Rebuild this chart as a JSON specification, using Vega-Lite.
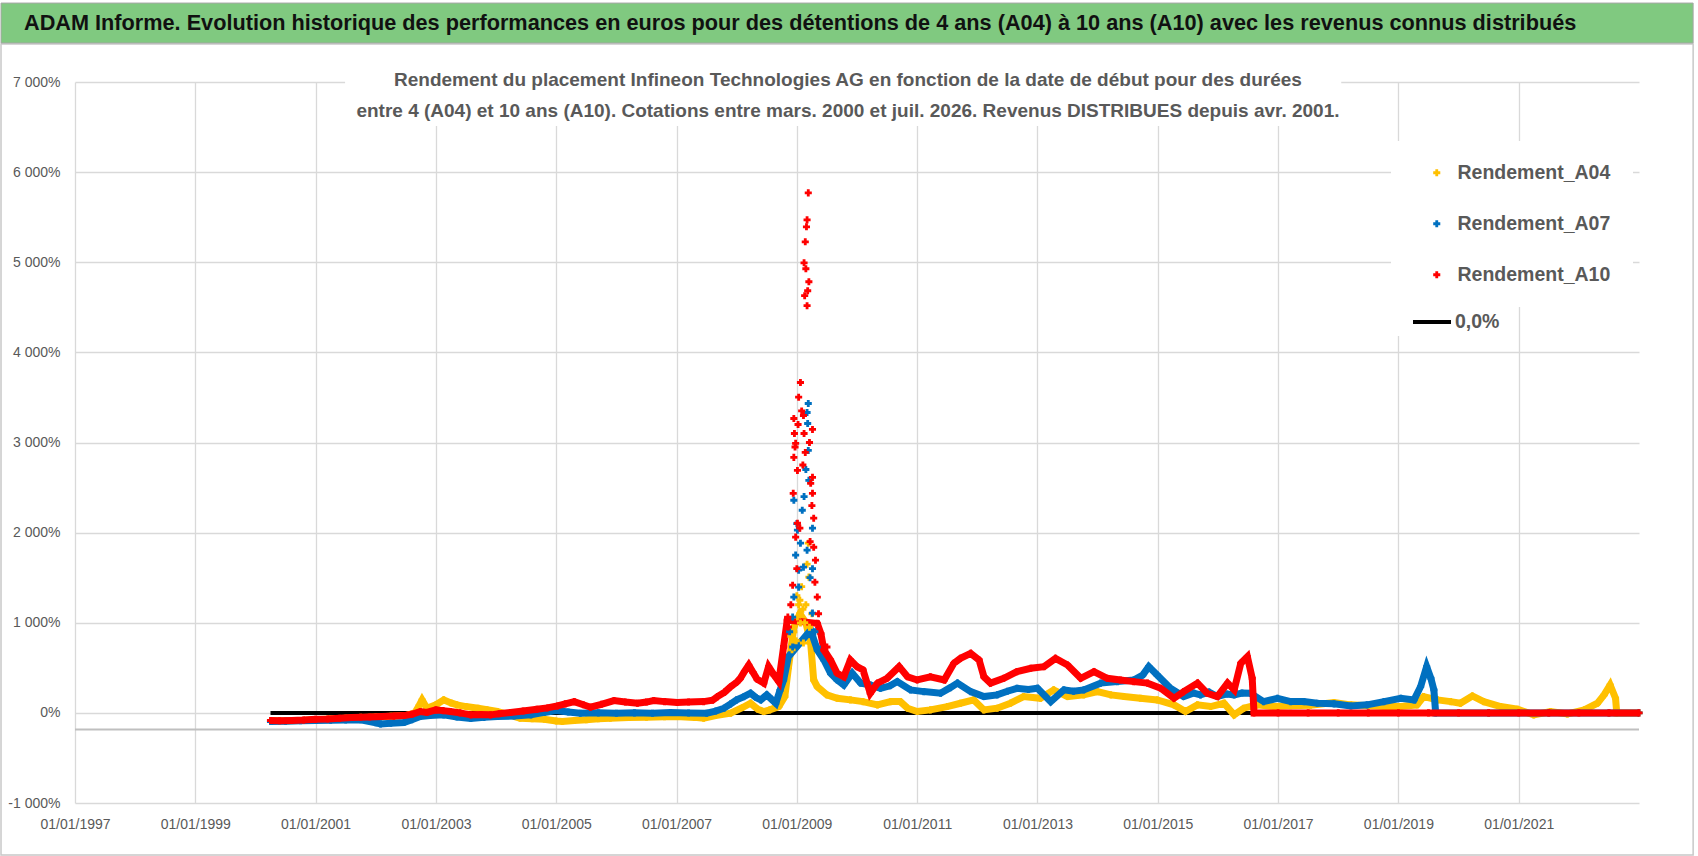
{
  "$schema": "https://vega.github.io/schema/vega-lite/v6.json",
  "width": 1564,
  "height": 721,
  "autosize": {"type": "none"},
  "padding": {"left": 75, "top": 82, "right": 59, "bottom": 53},
  "background": "white",
  "config": {"view": {"stroke": null}, "font": "Liberation Sans"},
  "datasets": {
    "blank": [{}],
    "zero": [{"k": "0,0%", "t": 2000.25, "v": 0}, {"k": "0,0%", "t": 2016.6, "v": 0}],
    "band": [
      {"s":"Rendement_A04","t":2000.25,"v":-85},{"s":"Rendement_A04","t":2000.5,"v":-88},{"s":"Rendement_A04","t":2000.75,"v":-84},{"s":"Rendement_A04","t":2001.0,"v":-75},{"s":"Rendement_A04","t":2001.25,"v":-68},{"s":"Rendement_A04","t":2001.5,"v":-60},{"s":"Rendement_A04","t":2001.75,"v":-50},{"s":"Rendement_A04","t":2002.0,"v":-45},{"s":"Rendement_A04","t":2002.25,"v":-38},{"s":"Rendement_A04","t":2002.5,"v":-30},{"s":"Rendement_A04","t":2002.65,"v":0},{"s":"Rendement_A04","t":2002.72,"v":80},{"s":"Rendement_A04","t":2002.77,"v":144},{"s":"Rendement_A04","t":2002.85,"v":52},{"s":"Rendement_A04","t":2003.0,"v":90},{"s":"Rendement_A04","t":2003.13,"v":144},{"s":"Rendement_A04","t":2003.25,"v":110},{"s":"Rendement_A04","t":2003.35,"v":89},{"s":"Rendement_A04","t":2003.5,"v":70},{"s":"Rendement_A04","t":2003.7,"v":52},{"s":"Rendement_A04","t":2003.85,"v":35},{"s":"Rendement_A04","t":2004.02,"v":15},{"s":"Rendement_A04","t":2004.2,"v":-20},{"s":"Rendement_A04","t":2004.4,"v":-59},{"s":"Rendement_A04","t":2004.6,"v":-65},{"s":"Rendement_A04","t":2004.8,"v":-70},{"s":"Rendement_A04","t":2005.0,"v":-90},{"s":"Rendement_A04","t":2005.1,"v":-96},{"s":"Rendement_A04","t":2005.3,"v":-85},{"s":"Rendement_A04","t":2005.5,"v":-77},{"s":"Rendement_A04","t":2005.7,"v":-65},{"s":"Rendement_A04","t":2005.9,"v":-59},{"s":"Rendement_A04","t":2006.2,"v":-52},{"s":"Rendement_A04","t":2006.5,"v":-48},{"s":"Rendement_A04","t":2006.8,"v":-42},{"s":"Rendement_A04","t":2007.0,"v":-40},{"s":"Rendement_A04","t":2007.3,"v":-50},{"s":"Rendement_A04","t":2007.45,"v":-59},{"s":"Rendement_A04","t":2007.65,"v":-30},{"s":"Rendement_A04","t":2007.9,"v":-4},{"s":"Rendement_A04","t":2008.1,"v":60},{"s":"Rendement_A04","t":2008.23,"v":107},{"s":"Rendement_A04","t":2008.35,"v":40},{"s":"Rendement_A04","t":2008.45,"v":15},{"s":"Rendement_A04","t":2008.55,"v":33},{"s":"Rendement_A04","t":2008.7,"v":70},{"s":"Rendement_A04","t":2008.8,"v":180},{"s":"Rendement_A04","t":2008.86,"v":500},{"s":"Rendement_A04","t":2008.95,"v":950},{"s":"Rendement_A04","t":2009.05,"v":1100},{"s":"Rendement_A04","t":2009.15,"v":1000},{"s":"Rendement_A04","t":2009.23,"v":771},{"s":"Rendement_A04","t":2009.28,"v":365},{"s":"Rendement_A04","t":2009.34,"v":290},{"s":"Rendement_A04","t":2009.5,"v":200},{"s":"Rendement_A04","t":2009.67,"v":162},{"s":"Rendement_A04","t":2009.89,"v":144},{"s":"Rendement_A04","t":2010.1,"v":125},{"s":"Rendement_A04","t":2010.34,"v":89},{"s":"Rendement_A04","t":2010.56,"v":125},{"s":"Rendement_A04","t":2010.72,"v":125},{"s":"Rendement_A04","t":2010.84,"v":52},{"s":"Rendement_A04","t":2011.0,"v":15},{"s":"Rendement_A04","t":2011.22,"v":33},{"s":"Rendement_A04","t":2011.5,"v":70},{"s":"Rendement_A04","t":2011.72,"v":107},{"s":"Rendement_A04","t":2011.94,"v":144},{"s":"Rendement_A04","t":2012.11,"v":33},{"s":"Rendement_A04","t":2012.33,"v":52},{"s":"Rendement_A04","t":2012.55,"v":107},{"s":"Rendement_A04","t":2012.77,"v":181},{"s":"Rendement_A04","t":2013.05,"v":162},{"s":"Rendement_A04","t":2013.27,"v":255},{"s":"Rendement_A04","t":2013.5,"v":181},{"s":"Rendement_A04","t":2013.77,"v":200},{"s":"Rendement_A04","t":2014.0,"v":236},{"s":"Rendement_A04","t":2014.22,"v":200},{"s":"Rendement_A04","t":2014.44,"v":181},{"s":"Rendement_A04","t":2014.71,"v":162},{"s":"Rendement_A04","t":2014.99,"v":144},{"s":"Rendement_A04","t":2015.27,"v":89},{"s":"Rendement_A04","t":2015.46,"v":15},{"s":"Rendement_A04","t":2015.66,"v":89},{"s":"Rendement_A04","t":2015.88,"v":70},{"s":"Rendement_A04","t":2016.1,"v":107},{"s":"Rendement_A04","t":2016.27,"v":-22},{"s":"Rendement_A04","t":2016.43,"v":52},{"s":"Rendement_A04","t":2016.65,"v":89},{"s":"Rendement_A04","t":2016.93,"v":70},{"s":"Rendement_A04","t":2017.21,"v":80},{"s":"Rendement_A04","t":2017.54,"v":85},{"s":"Rendement_A04","t":2017.93,"v":114},{"s":"Rendement_A04","t":2018.21,"v":89},{"s":"Rendement_A04","t":2018.5,"v":80},{"s":"Rendement_A04","t":2018.76,"v":70},{"s":"Rendement_A04","t":2019.04,"v":70},{"s":"Rendement_A04","t":2019.31,"v":89},{"s":"Rendement_A04","t":2019.42,"v":181},{"s":"Rendement_A04","t":2019.65,"v":144},{"s":"Rendement_A04","t":2019.87,"v":125},{"s":"Rendement_A04","t":2020.03,"v":107},{"s":"Rendement_A04","t":2020.23,"v":188},{"s":"Rendement_A04","t":2020.42,"v":125},{"s":"Rendement_A04","t":2020.7,"v":70},{"s":"Rendement_A04","t":2020.98,"v":41},{"s":"Rendement_A04","t":2021.25,"v":-22},{"s":"Rendement_A04","t":2021.53,"v":15},{"s":"Rendement_A04","t":2021.81,"v":-11},{"s":"Rendement_A04","t":2022.09,"v":33},{"s":"Rendement_A04","t":2022.31,"v":107},{"s":"Rendement_A04","t":2022.42,"v":200},{"s":"Rendement_A04","t":2022.52,"v":310},{"s":"Rendement_A04","t":2022.61,"v":162},{"s":"Rendement_A04","t":2022.63,"v":0},{"s":"Rendement_A04","t":2023.0,"v":0},
      {"s":"Rendement_A07","t":2000.25,"v":-96},{"s":"Rendement_A07","t":2000.5,"v":-92},{"s":"Rendement_A07","t":2000.75,"v":-88},{"s":"Rendement_A07","t":2001.0,"v":-85},{"s":"Rendement_A07","t":2001.25,"v":-82},{"s":"Rendement_A07","t":2001.5,"v":-80},{"s":"Rendement_A07","t":2001.75,"v":-77},{"s":"Rendement_A07","t":2002.0,"v":-110},{"s":"Rendement_A07","t":2002.08,"v":-122},{"s":"Rendement_A07","t":2002.25,"v":-115},{"s":"Rendement_A07","t":2002.47,"v":-107},{"s":"Rendement_A07","t":2002.6,"v":-75},{"s":"Rendement_A07","t":2002.74,"v":-40},{"s":"Rendement_A07","t":2002.9,"v":-30},{"s":"Rendement_A07","t":2003.13,"v":-22},{"s":"Rendement_A07","t":2003.35,"v":-45},{"s":"Rendement_A07","t":2003.58,"v":-63},{"s":"Rendement_A07","t":2003.8,"v":-50},{"s":"Rendement_A07","t":2004.02,"v":-40},{"s":"Rendement_A07","t":2004.3,"v":-35},{"s":"Rendement_A07","t":2004.58,"v":-22},{"s":"Rendement_A07","t":2004.8,"v":5},{"s":"Rendement_A07","t":2005.0,"v":26},{"s":"Rendement_A07","t":2005.2,"v":10},{"s":"Rendement_A07","t":2005.4,"v":-4},{"s":"Rendement_A07","t":2005.7,"v":0},{"s":"Rendement_A07","t":2006.0,"v":-4},{"s":"Rendement_A07","t":2006.3,"v":0},{"s":"Rendement_A07","t":2006.6,"v":-4},{"s":"Rendement_A07","t":2006.9,"v":4},{"s":"Rendement_A07","t":2007.2,"v":-2},{"s":"Rendement_A07","t":2007.5,"v":-4},{"s":"Rendement_A07","t":2007.65,"v":20},{"s":"Rendement_A07","t":2007.79,"v":52},{"s":"Rendement_A07","t":2007.9,"v":100},{"s":"Rendement_A07","t":2008.0,"v":144},{"s":"Rendement_A07","t":2008.12,"v":180},{"s":"Rendement_A07","t":2008.23,"v":218},{"s":"Rendement_A07","t":2008.32,"v":170},{"s":"Rendement_A07","t":2008.4,"v":144},{"s":"Rendement_A07","t":2008.5,"v":200},{"s":"Rendement_A07","t":2008.58,"v":150},{"s":"Rendement_A07","t":2008.65,"v":107},{"s":"Rendement_A07","t":2008.72,"v":250},{"s":"Rendement_A07","t":2008.78,"v":365},{"s":"Rendement_A07","t":2008.86,"v":624},{"s":"Rendement_A07","t":2009.23,"v":918},{"s":"Rendement_A07","t":2009.34,"v":697},{"s":"Rendement_A07","t":2009.45,"v":587},{"s":"Rendement_A07","t":2009.56,"v":440},{"s":"Rendement_A07","t":2009.67,"v":365},{"s":"Rendement_A07","t":2009.78,"v":310},{"s":"Rendement_A07","t":2009.92,"v":440},{"s":"Rendement_A07","t":2010.06,"v":330},{"s":"Rendement_A07","t":2010.22,"v":310},{"s":"Rendement_A07","t":2010.39,"v":273},{"s":"Rendement_A07","t":2010.55,"v":300},{"s":"Rendement_A07","t":2010.67,"v":347},{"s":"Rendement_A07","t":2010.89,"v":255},{"s":"Rendement_A07","t":2011.11,"v":236},{"s":"Rendement_A07","t":2011.39,"v":218},{"s":"Rendement_A07","t":2011.55,"v":280},{"s":"Rendement_A07","t":2011.67,"v":330},{"s":"Rendement_A07","t":2011.89,"v":236},{"s":"Rendement_A07","t":2012.11,"v":181},{"s":"Rendement_A07","t":2012.33,"v":200},{"s":"Rendement_A07","t":2012.5,"v":240},{"s":"Rendement_A07","t":2012.66,"v":273},{"s":"Rendement_A07","t":2012.85,"v":260},{"s":"Rendement_A07","t":2013.0,"v":273},{"s":"Rendement_A07","t":2013.22,"v":125},{"s":"Rendement_A07","t":2013.44,"v":255},{"s":"Rendement_A07","t":2013.6,"v":240},{"s":"Rendement_A07","t":2013.77,"v":255},{"s":"Rendement_A07","t":2014.05,"v":330},{"s":"Rendement_A07","t":2014.33,"v":347},{"s":"Rendement_A07","t":2014.6,"v":365},{"s":"Rendement_A07","t":2014.75,"v":420},{"s":"Rendement_A07","t":2014.85,"v":513},{"s":"Rendement_A07","t":2014.99,"v":420},{"s":"Rendement_A07","t":2015.21,"v":273},{"s":"Rendement_A07","t":2015.43,"v":181},{"s":"Rendement_A07","t":2015.6,"v":220},{"s":"Rendement_A07","t":2015.71,"v":200},{"s":"Rendement_A07","t":2015.85,"v":230},{"s":"Rendement_A07","t":2015.99,"v":181},{"s":"Rendement_A07","t":2016.15,"v":210},{"s":"Rendement_A07","t":2016.27,"v":200},{"s":"Rendement_A07","t":2016.4,"v":220},{"s":"Rendement_A07","t":2016.54,"v":218},{"s":"Rendement_A07","t":2016.76,"v":125},{"s":"Rendement_A07","t":2016.99,"v":162},{"s":"Rendement_A07","t":2017.21,"v":125},{"s":"Rendement_A07","t":2017.43,"v":125},{"s":"Rendement_A07","t":2017.65,"v":107},{"s":"Rendement_A07","t":2017.93,"v":100},{"s":"Rendement_A07","t":2018.21,"v":77},{"s":"Rendement_A07","t":2018.48,"v":89},{"s":"Rendement_A07","t":2018.76,"v":125},{"s":"Rendement_A07","t":2019.04,"v":162},{"s":"Rendement_A07","t":2019.26,"v":144},{"s":"Rendement_A07","t":2019.37,"v":292},{"s":"Rendement_A07","t":2019.47,"v":513},{"s":"Rendement_A07","t":2019.54,"v":384},{"s":"Rendement_A07","t":2019.59,"v":255},{"s":"Rendement_A07","t":2019.62,"v":0},{"s":"Rendement_A07","t":2020.5,"v":0},{"s":"Rendement_A07","t":2021.5,"v":0},{"s":"Rendement_A07","t":2022.5,"v":0},{"s":"Rendement_A07","t":2023.0,"v":0},
      {"s":"Rendement_A10","t":2000.25,"v":-85},{"s":"Rendement_A10","t":2000.4,"v":-88},{"s":"Rendement_A10","t":2000.6,"v":-84},{"s":"Rendement_A10","t":2000.8,"v":-80},{"s":"Rendement_A10","t":2001.0,"v":-72},{"s":"Rendement_A10","t":2001.2,"v":-68},{"s":"Rendement_A10","t":2001.4,"v":-60},{"s":"Rendement_A10","t":2001.6,"v":-52},{"s":"Rendement_A10","t":2001.75,"v":-48},{"s":"Rendement_A10","t":2001.9,"v":-45},{"s":"Rendement_A10","t":2002.1,"v":-40},{"s":"Rendement_A10","t":2002.3,"v":-36},{"s":"Rendement_A10","t":2002.47,"v":-30},{"s":"Rendement_A10","t":2002.6,"v":-15},{"s":"Rendement_A10","t":2002.74,"v":15},{"s":"Rendement_A10","t":2002.85,"v":5},{"s":"Rendement_A10","t":2003.0,"v":33},{"s":"Rendement_A10","t":2003.12,"v":25},{"s":"Rendement_A10","t":2003.24,"v":15},{"s":"Rendement_A10","t":2003.4,"v":0},{"s":"Rendement_A10","t":2003.58,"v":-22},{"s":"Rendement_A10","t":2003.75,"v":-18},{"s":"Rendement_A10","t":2003.91,"v":-22},{"s":"Rendement_A10","t":2004.05,"v":-10},{"s":"Rendement_A10","t":2004.24,"v":4},{"s":"Rendement_A10","t":2004.45,"v":20},{"s":"Rendement_A10","t":2004.68,"v":40},{"s":"Rendement_A10","t":2004.85,"v":55},{"s":"Rendement_A10","t":2005.02,"v":77},{"s":"Rendement_A10","t":2005.15,"v":100},{"s":"Rendement_A10","t":2005.3,"v":125},{"s":"Rendement_A10","t":2005.45,"v":90},{"s":"Rendement_A10","t":2005.57,"v":63},{"s":"Rendement_A10","t":2005.75,"v":95},{"s":"Rendement_A10","t":2005.96,"v":137},{"s":"Rendement_A10","t":2006.15,"v":120},{"s":"Rendement_A10","t":2006.35,"v":107},{"s":"Rendement_A10","t":2006.5,"v":120},{"s":"Rendement_A10","t":2006.62,"v":137},{"s":"Rendement_A10","t":2006.8,"v":125},{"s":"Rendement_A10","t":2007.01,"v":115},{"s":"Rendement_A10","t":2007.2,"v":120},{"s":"Rendement_A10","t":2007.45,"v":125},{"s":"Rendement_A10","t":2007.6,"v":140},{"s":"Rendement_A10","t":2007.68,"v":180},{"s":"Rendement_A10","t":2007.8,"v":230},{"s":"Rendement_A10","t":2007.9,"v":290},{"s":"Rendement_A10","t":2008.0,"v":340},{"s":"Rendement_A10","t":2008.06,"v":384},{"s":"Rendement_A10","t":2008.13,"v":460},{"s":"Rendement_A10","t":2008.2,"v":530},{"s":"Rendement_A10","t":2008.27,"v":450},{"s":"Rendement_A10","t":2008.34,"v":373},{"s":"Rendement_A10","t":2008.45,"v":330},{"s":"Rendement_A10","t":2008.53,"v":513},{"s":"Rendement_A10","t":2008.62,"v":420},{"s":"Rendement_A10","t":2008.7,"v":347},{"s":"Rendement_A10","t":2008.78,"v":734},{"s":"Rendement_A10","t":2008.84,"v":1030},{"s":"Rendement_A10","t":2009.34,"v":993},{"s":"Rendement_A10","t":2009.4,"v":880},{"s":"Rendement_A10","t":2009.45,"v":697},{"s":"Rendement_A10","t":2009.56,"v":587},{"s":"Rendement_A10","t":2009.67,"v":440},{"s":"Rendement_A10","t":2009.78,"v":400},{"s":"Rendement_A10","t":2009.89,"v":587},{"s":"Rendement_A10","t":2010.0,"v":513},{"s":"Rendement_A10","t":2010.1,"v":476},{"s":"Rendement_A10","t":2010.22,"v":218},{"s":"Rendement_A10","t":2010.34,"v":330},{"s":"Rendement_A10","t":2010.5,"v":384},{"s":"Rendement_A10","t":2010.7,"v":513},{"s":"Rendement_A10","t":2010.84,"v":400},{"s":"Rendement_A10","t":2011.0,"v":365},{"s":"Rendement_A10","t":2011.22,"v":400},{"s":"Rendement_A10","t":2011.45,"v":365},{"s":"Rendement_A10","t":2011.61,"v":550},{"s":"Rendement_A10","t":2011.72,"v":605},{"s":"Rendement_A10","t":2011.89,"v":660},{"s":"Rendement_A10","t":2012.03,"v":587},{"s":"Rendement_A10","t":2012.11,"v":400},{"s":"Rendement_A10","t":2012.22,"v":330},{"s":"Rendement_A10","t":2012.44,"v":384},{"s":"Rendement_A10","t":2012.66,"v":458},{"s":"Rendement_A10","t":2012.89,"v":495},{"s":"Rendement_A10","t":2013.11,"v":513},{"s":"Rendement_A10","t":2013.3,"v":605},{"s":"Rendement_A10","t":2013.5,"v":531},{"s":"Rendement_A10","t":2013.72,"v":384},{"s":"Rendement_A10","t":2013.94,"v":458},{"s":"Rendement_A10","t":2014.16,"v":384},{"s":"Rendement_A10","t":2014.38,"v":365},{"s":"Rendement_A10","t":2014.6,"v":347},{"s":"Rendement_A10","t":2014.83,"v":330},{"s":"Rendement_A10","t":2015.05,"v":273},{"s":"Rendement_A10","t":2015.27,"v":162},{"s":"Rendement_A10","t":2015.43,"v":236},{"s":"Rendement_A10","t":2015.66,"v":330},{"s":"Rendement_A10","t":2015.82,"v":218},{"s":"Rendement_A10","t":2015.99,"v":181},{"s":"Rendement_A10","t":2016.16,"v":330},{"s":"Rendement_A10","t":2016.27,"v":255},{"s":"Rendement_A10","t":2016.38,"v":550},{"s":"Rendement_A10","t":2016.49,"v":624},{"s":"Rendement_A10","t":2016.57,"v":384},{"s":"Rendement_A10","t":2016.6,"v":0},{"s":"Rendement_A10","t":2017.0,"v":0},{"s":"Rendement_A10","t":2017.5,"v":0},{"s":"Rendement_A10","t":2018.0,"v":0},{"s":"Rendement_A10","t":2018.5,"v":0},{"s":"Rendement_A10","t":2019.0,"v":0},{"s":"Rendement_A10","t":2019.5,"v":0},{"s":"Rendement_A10","t":2020.0,"v":0},{"s":"Rendement_A10","t":2020.5,"v":0},{"s":"Rendement_A10","t":2021.0,"v":0},{"s":"Rendement_A10","t":2021.5,"v":0},{"s":"Rendement_A10","t":2022.0,"v":0},{"s":"Rendement_A10","t":2022.5,"v":0},{"s":"Rendement_A10","t":2023.0,"v":0}
    ],
    "spike": [
      {"s":"Rendement_A04","t":2009.19,"v":1883},{"s":"Rendement_A04","t":2009.2,"v":1506},{"s":"Rendement_A04","t":2009.01,"v":1063},{"s":"Rendement_A04","t":2009.06,"v":997},{"s":"Rendement_A04","t":2009.11,"v":775},{"s":"Rendement_A04","t":2009.0,"v":1300},{"s":"Rendement_A04","t":2009.05,"v":1250},{"s":"Rendement_A04","t":2009.1,"v":1150},{"s":"Rendement_A04","t":2009.15,"v":1200},{"s":"Rendement_A04","t":2008.95,"v":900},{"s":"Rendement_A04","t":2009.21,"v":950},{"s":"Rendement_A04","t":2008.99,"v":800},{"s":"Rendement_A04","t":2009.08,"v":1400},{"s":"Rendement_A04","t":2008.92,"v":700},{"s":"Rendement_A04","t":2009.13,"v":1000},{"s":"Rendement_A04","t":2008.9,"v":850},{"s":"Rendement_A04","t":2009.25,"v":1100},{"s":"Rendement_A04","t":2009.17,"v":1650},{"s":"Rendement_A04","t":2009.03,"v":1200},
      {"s":"Rendement_A07","t":2009.19,"v":3433},{"s":"Rendement_A07","t":2009.17,"v":3333},{"s":"Rendement_A07","t":2009.18,"v":3211},{"s":"Rendement_A07","t":2009.19,"v":2912},{"s":"Rendement_A07","t":2009.2,"v":2580},{"s":"Rendement_A07","t":2008.95,"v":2359},{"s":"Rendement_A07","t":2009.09,"v":2248},{"s":"Rendement_A07","t":2009.26,"v":2049},{"s":"Rendement_A07","t":2009.01,"v":2027},{"s":"Rendement_A07","t":2009.06,"v":1883},{"s":"Rendement_A07","t":2009.17,"v":1805},{"s":"Rendement_A07","t":2009.11,"v":1617},{"s":"Rendement_A07","t":2009.03,"v":1584},{"s":"Rendement_A07","t":2009.26,"v":1600},{"s":"Rendement_A07","t":2008.95,"v":1285},{"s":"Rendement_A07","t":2009.03,"v":1395},{"s":"Rendement_A07","t":2009.26,"v":1107},{"s":"Rendement_A07","t":2008.93,"v":1063},{"s":"Rendement_A07","t":2009.34,"v":731},{"s":"Rendement_A07","t":2008.93,"v":731},{"s":"Rendement_A07","t":2009.0,"v":2100},{"s":"Rendement_A07","t":2009.22,"v":1500},{"s":"Rendement_A07","t":2008.98,"v":1750},{"s":"Rendement_A07","t":2009.12,"v":2400},{"s":"Rendement_A07","t":2008.88,"v":900},{"s":"Rendement_A07","t":2009.3,"v":900},{"s":"Rendement_A07","t":2009.15,"v":2700},
      {"s":"Rendement_A10","t":2009.19,"v":5770},{"s":"Rendement_A10","t":2009.17,"v":5470},{"s":"Rendement_A10","t":2009.16,"v":5393},{"s":"Rendement_A10","t":2009.14,"v":5227},{"s":"Rendement_A10","t":2009.12,"v":4994},{"s":"Rendement_A10","t":2009.15,"v":4928},{"s":"Rendement_A10","t":2009.2,"v":4784},{"s":"Rendement_A10","t":2009.18,"v":4684},{"s":"Rendement_A10","t":2009.13,"v":4629},{"s":"Rendement_A10","t":2009.17,"v":4518},{"s":"Rendement_A10","t":2009.06,"v":3666},{"s":"Rendement_A10","t":2009.03,"v":3503},{"s":"Rendement_A10","t":2009.11,"v":3300},{"s":"Rendement_A10","t":2008.95,"v":3266},{"s":"Rendement_A10","t":2009.26,"v":3145},{"s":"Rendement_A10","t":2008.96,"v":3100},{"s":"Rendement_A10","t":2008.98,"v":2990},{"s":"Rendement_A10","t":2009.14,"v":2890},{"s":"Rendement_A10","t":2008.95,"v":2835},{"s":"Rendement_A10","t":2009.01,"v":2690},{"s":"Rendement_A10","t":2009.26,"v":2613},{"s":"Rendement_A10","t":2009.23,"v":2547},{"s":"Rendement_A10","t":2009.26,"v":2436},{"s":"Rendement_A10","t":2008.94,"v":2436},{"s":"Rendement_A10","t":2009.28,"v":2160},{"s":"Rendement_A10","t":2009.01,"v":2104},{"s":"Rendement_A10","t":2008.98,"v":1950},{"s":"Rendement_A10","t":2009.28,"v":1838},{"s":"Rendement_A10","t":2009.31,"v":1694},{"s":"Rendement_A10","t":2008.93,"v":1417},{"s":"Rendement_A10","t":2009.34,"v":1285},{"s":"Rendement_A10","t":2008.85,"v":1063},{"s":"Rendement_A10","t":2008.86,"v":953},{"s":"Rendement_A10","t":2008.78,"v":731},{"s":"Rendement_A10","t":2009.36,"v":1100},{"s":"Rendement_A10","t":2009.5,"v":731},{"s":"Rendement_A10","t":2009.08,"v":3350},{"s":"Rendement_A10","t":2008.97,"v":2950},{"s":"Rendement_A10","t":2009.1,"v":2750},{"s":"Rendement_A10","t":2009.21,"v":3000},{"s":"Rendement_A10","t":2009.05,"v":2050},{"s":"Rendement_A10","t":2009.22,"v":1900},{"s":"Rendement_A10","t":2009.0,"v":1600},{"s":"Rendement_A10","t":2008.9,"v":1200},{"s":"Rendement_A10","t":2009.3,"v":1450},{"s":"Rendement_A10","t":2009.25,"v":2300},{"s":"Rendement_A10","t":2009.12,"v":3100},{"s":"Rendement_A10","t":2009.02,"v":3200}
    ]
  },
  "layer": [
    {
      "data": {"name": "blank"},
      "mark": {"type": "rect", "fillOpacity": 0, "stroke": "#C8C8C8", "strokeWidth": 1.5, "clip": false},
      "encoding": {
        "x": {"datum": 1995.77, "type": "quantitative", "title": null, "scale": {"domain": [1997, 2023], "nice": false, "zero": false}},
        "x2": {"datum": 2023.9},
        "y": {"datum": 7421, "type": "quantitative", "title": null, "scale": {"domain": [-1000, 7000], "nice": false, "zero": false}},
        "y2": {"datum": -1577}
      }
    },
    {
      "data": {"name": "blank"},
      "mark": {"type": "rect", "fill": "#80C980", "stroke": "#A6A6A6", "strokeWidth": 1, "clip": false},
      "encoding": {
        "x": {"datum": 1995.77, "type": "quantitative", "title": null, "scale": {"domain": [1997, 2023], "nice": false, "zero": false}},
        "x2": {"datum": 2023.9},
        "y": {"datum": 7876, "type": "quantitative", "title": null, "scale": {"domain": [-1000, 7000], "nice": false, "zero": false}},
        "y2": {"datum": 7432}
      }
    },
    {
      "data": {"name": "blank"},
      "mark": {"type": "rect", "fill": "white", "clip": false},
      "encoding": {
        "x": {"datum": 2001.49, "type": "quantitative", "title": null, "scale": {"domain": [1997, 2023], "nice": false, "zero": false}},
        "x2": {"datum": 2018.05},
        "y": {"datum": 7244, "type": "quantitative", "title": null, "scale": {"domain": [-1000, 7000], "nice": false, "zero": false}},
        "y2": {"datum": 6512}
      }
    },
    {
      "data": {"name": "blank"},
      "mark": {"type": "rule", "color": "#BFBFBF", "strokeWidth": 2},
      "encoding": {
        "x": {"datum": 1997, "type": "quantitative", "title": null, "scale": {"domain": [1997, 2023], "nice": false, "zero": false}},
        "x2": {"datum": 2023},
        "y": {"datum": -185, "type": "quantitative", "title": null, "scale": {"domain": [-1000, 7000], "nice": false, "zero": false}}
      }
    },
    {
      "data": {"name": "zero"},
      "mark": {"type": "line", "strokeWidth": 4},
      "encoding": {
        "x": {"field": "t", "type": "quantitative", "title": null, "scale": {"domain": [1997, 2023], "nice": false, "zero": false},
          "axis": {"values": [1997, 1999, 2001, 2003, 2005, 2007, 2009, 2011, 2013, 2015, 2017, 2019, 2021], "labelExpr": "'01/01/' + datum.value", "title": null, "grid": true, "gridColor": "#D9D9D9", "gridWidth": 1.3, "domain": false, "ticks": false, "labelPadding": 14, "labelFontSize": 14, "labelColor": "#595959", "labelFlush": false, "labelOverlap": false}},
        "y": {"field": "v", "type": "quantitative", "title": null, "scale": {"domain": [-1000, 7000], "nice": false, "zero": false},
          "axis": {"values": [-1000, 0, 1000, 2000, 3000, 4000, 5000, 6000, 7000], "labelExpr": "replace(replace(format(datum.value, ','), ',', ' '), '\u2212', '-') + '%'", "title": null, "grid": true, "gridColor": "#D9D9D9", "gridWidth": 1.3, "domain": false, "ticks": false, "labelPadding": 15, "labelFontSize": 14, "labelColor": "#595959", "labelFlush": false, "labelOverlap": false}},
        "stroke": {"field": "k", "type": "nominal", "scale": {"domain": ["0,0%"], "range": ["#000000"]},
          "legend": {"orient": "none", "legendX": 1316, "legendY": 215, "title": null, "symbolType": "stroke", "symbolSize": 1444, "symbolStrokeWidth": 4, "labelFontSize": 19.5, "labelFontWeight": "bold", "labelColor": "#595959", "padding": 4, "symbolOffset": 16, "labelOffset": 2, "fillColor": "white"}}
      }
    },
    {
      "data": {"name": "band"},
      "transform": [{"filter": {"field": "s", "equal": "Rendement_A04"}}],
      "mark": {"type": "line", "color": "#FFC000", "strokeWidth": 7},
      "encoding": {
        "x": {"field": "t", "type": "quantitative", "title": null, "scale": {"domain": [1997, 2023], "nice": false, "zero": false}},
        "y": {"field": "v", "type": "quantitative", "title": null, "scale": {"domain": [-1000, 7000], "nice": false, "zero": false}}
      }
    },
    {
      "data": {"name": "band"},
      "transform": [{"filter": {"field": "s", "equal": "Rendement_A04"}}],
      "mark": {"type": "point", "shape": "cross", "filled": true, "size": 50, "opacity": 1},
      "encoding": {
        "x": {"field": "t", "type": "quantitative", "title": null, "scale": {"domain": [1997, 2023], "nice": false, "zero": false}},
        "y": {"field": "v", "type": "quantitative", "title": null, "scale": {"domain": [-1000, 7000], "nice": false, "zero": false}},
        "color": {"field": "s", "type": "nominal", "scale": {"domain": ["Rendement_A04", "Rendement_A07", "Rendement_A10"], "range": ["#FFC000", "#0070C0", "#FF0000"]},
          "legend": {"orient": "none", "legendX": 1316, "legendY": 59, "title": null, "symbolType": "cross", "symbolSize": 50, "labelFontSize": 19.5, "labelFontWeight": "bold", "labelColor": "#595959", "padding": 22, "rowPadding": 30, "symbolOffset": 14, "labelOffset": 11, "fillColor": "white", "labelLimit": 300}}
      }
    },
    {
      "data": {"name": "band"},
      "transform": [{"filter": {"field": "s", "equal": "Rendement_A07"}}],
      "mark": {"type": "line", "color": "#0070C0", "strokeWidth": 7},
      "encoding": {
        "x": {"field": "t", "type": "quantitative", "title": null, "scale": {"domain": [1997, 2023], "nice": false, "zero": false}},
        "y": {"field": "v", "type": "quantitative", "title": null, "scale": {"domain": [-1000, 7000], "nice": false, "zero": false}}
      }
    },
    {
      "data": {"name": "band"},
      "transform": [{"filter": {"field": "s", "equal": "Rendement_A07"}}],
      "mark": {"type": "point", "shape": "cross", "filled": true, "size": 50, "opacity": 1},
      "encoding": {
        "x": {"field": "t", "type": "quantitative", "title": null, "scale": {"domain": [1997, 2023], "nice": false, "zero": false}},
        "y": {"field": "v", "type": "quantitative", "title": null, "scale": {"domain": [-1000, 7000], "nice": false, "zero": false}},
        "color": {"field": "s", "type": "nominal", "scale": {"domain": ["Rendement_A04", "Rendement_A07", "Rendement_A10"], "range": ["#FFC000", "#0070C0", "#FF0000"]}}
      }
    },
    {
      "data": {"name": "band"},
      "transform": [{"filter": {"field": "s", "equal": "Rendement_A10"}}],
      "mark": {"type": "line", "color": "#FF0000", "strokeWidth": 7},
      "encoding": {
        "x": {"field": "t", "type": "quantitative", "title": null, "scale": {"domain": [1997, 2023], "nice": false, "zero": false}},
        "y": {"field": "v", "type": "quantitative", "title": null, "scale": {"domain": [-1000, 7000], "nice": false, "zero": false}}
      }
    },
    {
      "data": {"name": "band"},
      "transform": [{"filter": {"field": "s", "equal": "Rendement_A10"}}],
      "mark": {"type": "point", "shape": "cross", "filled": true, "size": 50, "opacity": 1},
      "encoding": {
        "x": {"field": "t", "type": "quantitative", "title": null, "scale": {"domain": [1997, 2023], "nice": false, "zero": false}},
        "y": {"field": "v", "type": "quantitative", "title": null, "scale": {"domain": [-1000, 7000], "nice": false, "zero": false}},
        "color": {"field": "s", "type": "nominal", "scale": {"domain": ["Rendement_A04", "Rendement_A07", "Rendement_A10"], "range": ["#FFC000", "#0070C0", "#FF0000"]}}
      }
    },
    {
      "data": {"name": "spike"},
      "mark": {"type": "point", "shape": "cross", "filled": true, "size": 50, "opacity": 1},
      "encoding": {
        "x": {"field": "t", "type": "quantitative", "title": null, "scale": {"domain": [1997, 2023], "nice": false, "zero": false}},
        "y": {"field": "v", "type": "quantitative", "title": null, "scale": {"domain": [-1000, 7000], "nice": false, "zero": false}},
        "color": {"field": "s", "type": "nominal", "scale": {"domain": ["Rendement_A04", "Rendement_A07", "Rendement_A10"], "range": ["#FFC000", "#0070C0", "#FF0000"]}}
      }
    },
    {
      "data": {"name": "blank"},
      "mark": {"type": "text", "text": "ADAM Informe. Evolution historique des performances en euros pour des détentions de 4 ans (A04) à 10 ans (A10) avec les revenus connus distribués", "align": "left", "baseline": "middle", "fontSize": 21.7, "fontWeight": "bold", "color": "#111111", "clip": false},
      "encoding": {
        "x": {"datum": 1996.152, "type": "quantitative", "title": null, "scale": {"domain": [1997, 2023], "nice": false, "zero": false}},
        "y": {"datum": 7655, "type": "quantitative", "title": null, "scale": {"domain": [-1000, 7000], "nice": false, "zero": false}}
      }
    },
    {
      "data": {"name": "blank"},
      "mark": {"type": "text", "text": ["Rendement du placement Infineon Technologies AG en fonction de la date de début pour des durées", "entre 4 (A04) et 10 ans (A10). Cotations entre mars. 2000 et juil. 2026. Revenus DISTRIBUES depuis avr. 2001."], "align": "center", "baseline": "middle", "lineHeight": 31, "fontSize": 19, "fontWeight": "bold", "color": "#595959", "clip": false},
      "encoding": {
        "x": {"datum": 2009.85, "type": "quantitative", "title": null, "scale": {"domain": [1997, 2023], "nice": false, "zero": false}},
        "y": {"datum": 7022, "type": "quantitative", "title": null, "scale": {"domain": [-1000, 7000], "nice": false, "zero": false}}
      }
    }
  ]
}
